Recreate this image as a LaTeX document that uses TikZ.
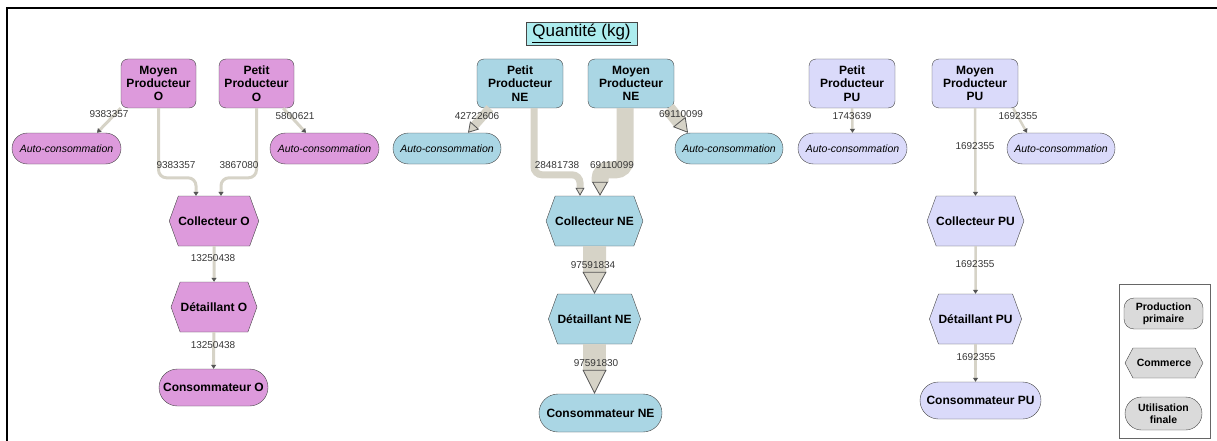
\documentclass[tikz,border=0pt]{standalone}
\usepackage{fontspec}
\setmainfont{Liberation Sans}
\usetikzlibrary{arrows.meta,calc,shapes.misc,shapes.symbols}
\definecolor{bord}{RGB}{70,70,70}
\definecolor{violetO}{RGB}{221,154,220}
\definecolor{bleuNE}{RGB}{170,214,228}
\definecolor{mauvePU}{RGB}{218,218,250}
\definecolor{grisleg}{RGB}{218,218,218}
\definecolor{titrec}{RGB}{172,236,238}
\definecolor{fluxc}{RGB}{214,211,199}
\definecolor{fleche}{RGB}{85,85,85}
\definecolor{etiqc}{RGB}{55,55,55}

\begin{document}
\begin{tikzpicture}[x=1pt,y=-1pt,
 prod/.style={draw=bord,rounded corners=7pt,minimum height=49pt,inner sep=1pt,align=center,font=\bfseries\fontsize{12}{13.3}\selectfont},
 autocons/.style={rounded rectangle,draw=bord,minimum height=31pt,inner sep=1pt,font=\itshape\fontsize{10.5}{12}\selectfont},
 commerce/.style={signal,signal to=east and west,signal pointer angle=140,draw=bord,minimum width=86pt,minimum height=50pt,inner sep=0pt,font=\bfseries\fontsize{12}{13.3}\selectfont},
 conso/.style={rounded rectangle,draw=bord,minimum height=37pt,inner sep=1pt,font=\bfseries\fontsize{12}{13.3}\selectfont},
 etiq/.style={font=\fontsize{10}{11}\selectfont,text=etiqc,inner sep=0pt},
 fin/.style={draw=fluxc,line width=#1,-{Triangle[length=4pt,width=5pt,color=fleche]}},
 gros/.style n args={3}{draw=fluxc,line width=#1,-{Triangle[length=#2,width=#3,line width=0.8pt,color=fleche,fill=fluxc]}}]
\useasboundingbox (0,0) rectangle (1217,441);
\draw[line width=2pt] (7,441) -- (7,8) -- (1217,8);

\node[draw=bord,fill=titrec,minimum width=111pt,minimum height=23pt,inner sep=2pt,font=\fontsize{17}{19}\selectfont] (titre) at (581.5,33.5) {\underline{Quantité (kg)}};

% --- O
\node[prod,fill=violetO,minimum width=75pt] (mO) at (158.5,83.5) {Moyen\\Producteur\\O};
\node[prod,fill=violetO,minimum width=75pt] (pO) at (256.5,83.5) {Petit\\Producteur\\O};
\node[autocons,fill=violetO,minimum width=111pt] (aO1) at (66.5,148.5) {Auto-consommation};
\node[autocons,fill=violetO,minimum width=111pt] (aO2) at (324.5,148.5) {Auto-consommation};
\node[commerce,fill=violetO] (colO) at (214,221) {Collecteur O};
\node[commerce,fill=violetO] (detO) at (214,307) {Détaillant O};
\node[conso,fill=violetO,minimum width=111pt] (consO) at (213.5,387.5) {Consommateur O};

% --- NE
\node[prod,fill=bleuNE,minimum width=86pt] (pNE) at (520,83.5) {Petit\\Producteur\\NE};
\node[prod,fill=bleuNE,minimum width=86pt] (mNE) at (631,83.5) {Moyen\\Producteur\\NE};
\node[autocons,fill=bleuNE,minimum width=110pt] (aNE1) at (447,148.5) {Auto-consommation};
\node[autocons,fill=bleuNE,minimum width=110pt] (aNE2) at (729,148.5) {Auto-consommation};
\node[commerce,fill=bleuNE] (colNE) at (594.5,221) {Collecteur NE};
\node[commerce,fill=bleuNE] (detNE) at (594.5,319) {Détaillant NE};
\node[conso,fill=bleuNE,minimum width=125pt,minimum height=38pt] (consNE) at (600.5,413) {Consommateur NE};

% --- PU
\node[prod,fill=mauvePU,minimum width=86pt] (pPU) at (852,83.5) {Petit\\Producteur\\PU};
\node[prod,fill=mauvePU,minimum width=86pt] (mPU) at (975,83.5) {Moyen\\Producteur\\PU};
\node[autocons,fill=mauvePU,minimum width=111pt] (aPU1) at (852.5,148.5) {Auto-consommation};
\node[autocons,fill=mauvePU,minimum width=110pt] (aPU2) at (1061,148.5) {Auto-consommation};
\node[commerce,fill=mauvePU] (colPU) at (975.5,221) {Collecteur PU};
\node[commerce,fill=mauvePU] (detPU) at (975.5,319) {Détaillant PU};
\node[conso,fill=mauvePU,minimum width=123pt] (consPU) at (980.5,400.5) {Consommateur PU};

% flux O
\draw[fin=3pt] (mO.south west) -- ($(aO1.north)+(30.5,0)$);
\draw[fin=3pt,rounded corners=8pt] (mO.south) |- ($(colO.north)+(-18,-18)$) -- ($(colO.north)+(-18,0)$);
\draw[fin=3pt,rounded corners=8pt] (pO.south) |- ($(colO.north)+(7,-18)$) -- ($(colO.north)+(7,0)$);
\draw[fin=3pt] ($(pO.south east)+(-11,0)$) -- ($(aO2.north)+(-18.5,0)$);
\draw[fin=3pt] (colO) -- (detO);
\draw[fin=3pt] (detO) -- (consO);

% flux NE
\draw[gros={9pt}{10pt}{12pt}] ($(pNE.south west)+(13,0)$) -- ($(aNE1.north)+(21,0)$);
\draw[gros={7pt}{8pt}{9pt},rounded corners=8pt] ($(pNE.south)+(14,0)$) |- ($(colNE.north)+(-14.5,-21)$) -- ($(colNE.north)+(-14.5,0)$);
\draw[gros={17pt}{14pt}{16pt},rounded corners=9pt] ($(mNE.south)+(-6,0)$) |- ($(colNE.north)+(5.5,-26)$) -- ($(colNE.north)+(5.5,0)$);
\draw[gros={14pt}{14pt}{16pt}] ($(mNE.south east)+(-6,0)$) -- ($(aNE2.north)+(-41,0)$);
\draw[gros={23pt}{22pt}{24pt}] (colNE) -- (detNE);
\draw[gros={23pt}{24pt}{24pt}] (detNE.south) -- (detNE.south |- consNE.north);

% flux PU
\draw[fin=2.5pt] (pPU.south) -- (aPU1.north);
\draw[fin=2.5pt] (mPU.south) -- (colPU.north);
\draw[fin=2.5pt] ($(mPU.south east)+(-5,0)$) -- ($(aPU2.north)+(-34,0)$);
\draw[fin=2.5pt] (colPU) -- (detPU);
\draw[fin=2.5pt] (detPU.south) -- (detPU.south |- consPU.north);

% etiquettes
\node[etiq] (qO1) at (109,114) {9383357};
\node[etiq] (qO2) at (295,116) {5800621};
\node[etiq] (qO3) at (176,165) {9383357};
\node[etiq] (qO4) at (239,165) {3867080};
\node[etiq] (qO5) at (213,258) {13250438};
\node[etiq] (qO6) at (213,345) {13250438};
\node[etiq] (qNE1) at (477,116) {42722606};
\node[etiq] (qNE2) at (681,114) {69110099};
\node[etiq] (qNE3) at (557,165) {28481738};
\node[etiq] (qNE4) at (612,165) {69110099};
\node[etiq] (qNE5) at (593,265) {97591834};
\node[etiq] (qNE6) at (596,363) {97591830};
\node[etiq] (qPU1) at (852,116) {1743639};
\node[etiq] (qPU2) at (1018,116) {1692355};
\node[etiq] (qPU3) at (975,146) {1692355};
\node[etiq] (qPU4) at (975,264) {1692355};
\node[etiq] (qPU5) at (976,357) {1692355};

% legende
\node[draw=black!60,line width=1pt,minimum width=91pt,minimum height=154pt] (legende) at (1164.5,361) {};
\node[draw=bord,fill=grisleg,rounded corners=10pt,minimum width=79pt,minimum height=31pt,inner sep=1pt,align=center,font=\bfseries\fontsize{10.5}{12}\selectfont] (legProd) at (1163.5,313.5) {Production\\primaire};
\node[signal,signal to=east and west,signal pointer angle=124,draw=bord,fill=grisleg,minimum width=78pt,minimum height=30pt,inner sep=0pt,font=\bfseries\fontsize{10.5}{12}\selectfont] (legCom) at (1164,363) {Commerce};
\node[rounded rectangle,draw=bord,fill=grisleg,minimum width=79pt,minimum height=33pt,inner sep=1pt,align=center,font=\bfseries\fontsize{10.5}{12}\selectfont] (legUtil) at (1163.5,413.5) {Utilisation\\finale};
\end{tikzpicture}
\end{document}
